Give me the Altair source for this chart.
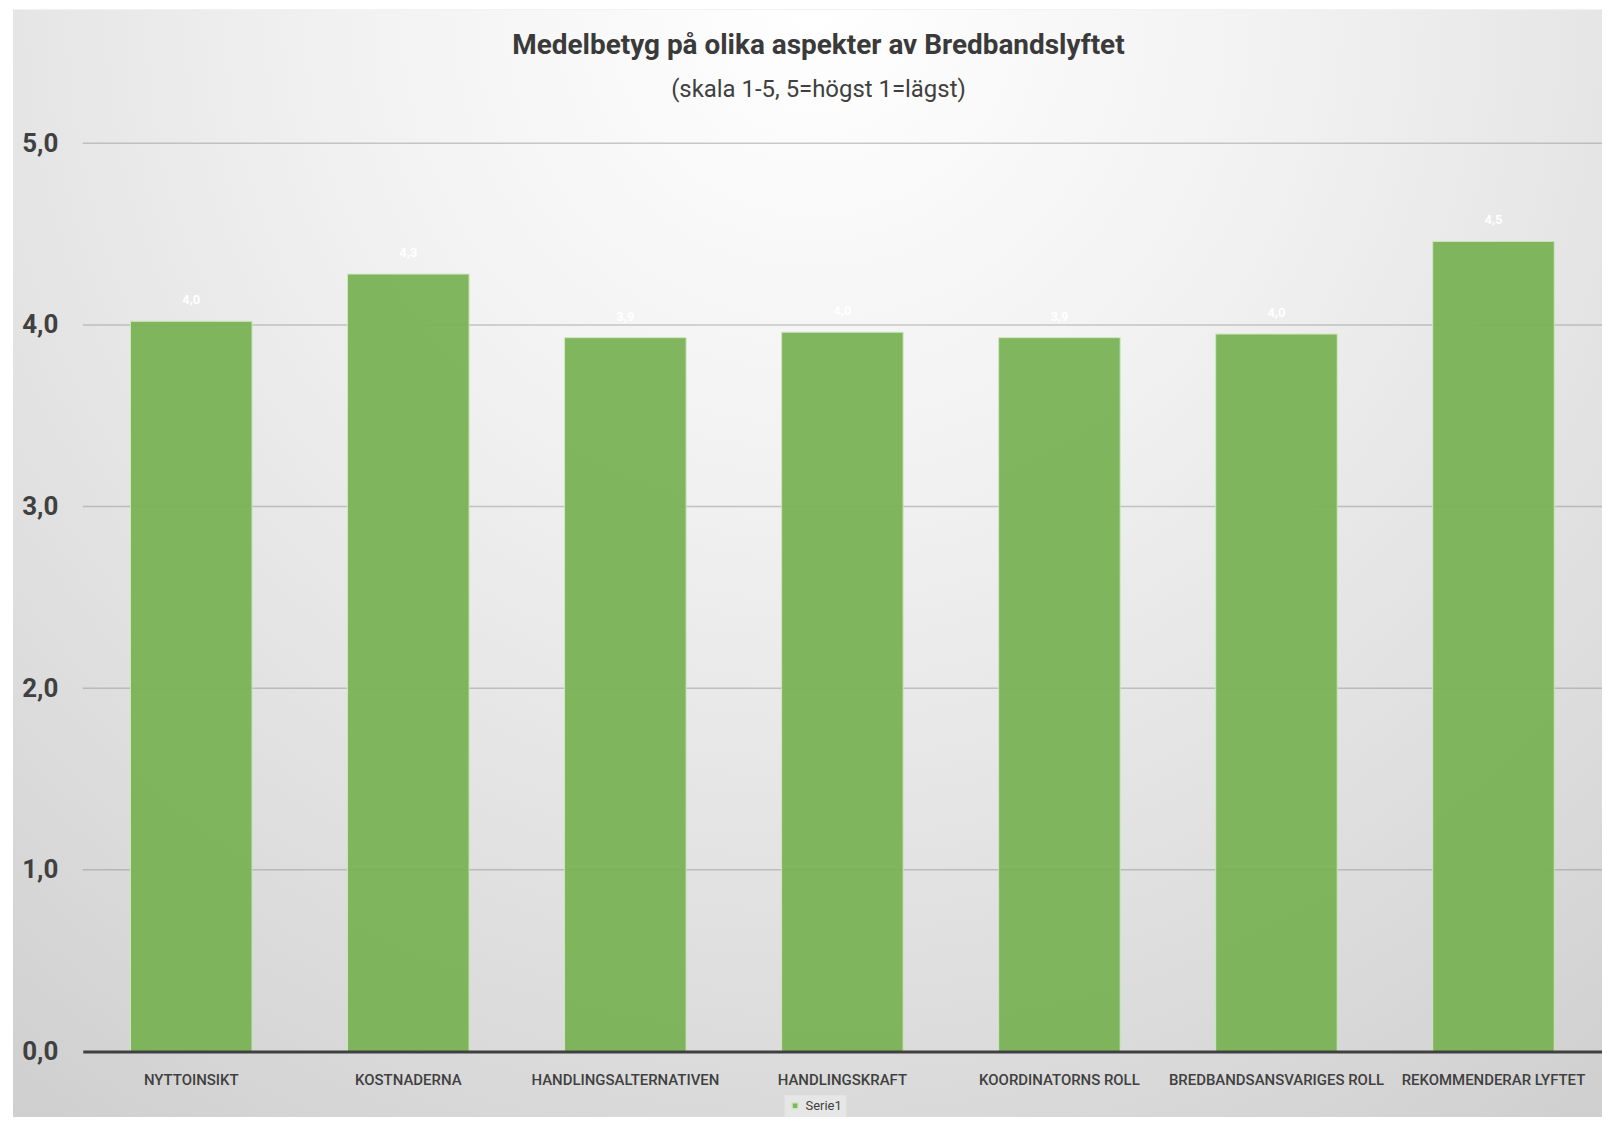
import altair as alt
import pandas as pd

categories = [
    "NYTTOINSIKT",
    "KOSTNADERNA",
    "HANDLINGSALTERNATIVEN",
    "HANDLINGSKRAFT",
    "KOORDINATORNS ROLL",
    "BREDBANDSANSVARIGES ROLL",
    "REKOMMENDERAR LYFTET",
]
values = [4.02, 4.28, 3.93, 3.96, 3.93, 3.95, 4.46]
value_labels = ["4,0", "4,3", "3,9", "4,0", "3,9", "4,0", "4,5"]
series = ["Serie1"] * len(categories)
grid_values = [1, 2, 3, 4, 5]
y_ticks = [0, 1, 2, 3, 4, 5]

df = pd.DataFrame({"kategori": categories, "medel": values,
                   "etikett": value_labels, "serie": series})
grid_df = pd.DataFrame({"v": grid_values})

F = "Roboto, Open Sans, sans-serif"
W, H = 1524, 911

y_scale = alt.Scale(domain=[0, 5])
y_axis = alt.Axis(values=y_ticks, labelExpr="replace(format(datum.value, '.1f'), '.', ',')",
                  domain=False, ticks=False, grid=False, labelFontSize=26,
                  labelFontWeight="bold", labelColor="#404040", labelFont=F,
                  labelPadding=25, title=None, zindex=1)
x_enc = alt.X("kategori:N", sort=categories,
              scale=alt.Scale(paddingInner=0.44, paddingOuter=0.22),
              axis=alt.Axis(labelAngle=0, labelFontSize=15, labelColor="#404040",
                            labelFont=F, labelFontWeight=500,
                            domainColor="#404040", domainWidth=3,
                            ticks=False, title=None, labelPadding=21, zindex=1,
                            labelLimit=400, labelOverlap=False, grid=False))

bg = alt.Chart(pd.DataFrame({"a": [0]})).mark_rect(
    color={"gradient": "radial",
           "stops": [{"offset": 0, "color": "#ffffff"},
                     {"offset": 0.2, "color": "#f1f1f1"},
                     {"offset": 0.45, "color": "#dadada"},
                     {"offset": 0.55, "color": "#d0d0d0"},
                     {"offset": 0.7, "color": "#c6c6c6"},
                     {"offset": 1, "color": "#bbbbbb"}],
           "x1": 0.5, "y1": 0, "r1": 0, "x2": 0.5, "y2": 0, "r2": 1}
).encode(x=alt.value(-70), x2=alt.value(W + 10), y=alt.value(-134), y2=alt.value(2300))

grid = alt.Chart(grid_df).mark_rule(color="#8c8c8c", opacity=0.45, strokeWidth=1.5).encode(
    y=alt.Y("v:Q", scale=y_scale, axis=y_axis)
)

bars = alt.Chart(df).mark_bar(color="#7ab356", opacity=0.95, stroke="#cfe6bf", strokeWidth=1).encode(
    x=x_enc,
    y=alt.Y("medel:Q", scale=y_scale, axis=y_axis),
    color=alt.Color("serie:N", scale=alt.Scale(range=["#7ab356"]),
                    legend=alt.Legend(orient="none", legendX=704, legendY=955,
                                      title=None, symbolType="square", symbolSize=36,
                                      labelFontSize=13, labelFont=F, labelColor="#404040",
                                      fillColor="#e6e6e6", padding=4)),
)

texts = alt.Chart(df).mark_text(color="white", fontSize=13, fontWeight="bold", dy=-21, font=F).encode(
    x=x_enc,
    y=alt.Y("medel:Q", scale=y_scale, axis=y_axis),
    text="etikett:N",
)

chart = alt.layer(bg, grid, bars, texts).properties(
    width=W, height=H,
    title=alt.Title("Medelbetyg på olika aspekter av Bredbandslyftet",
                    subtitle="(skala 1-5, 5=högst 1=lägst)",
                    fontSize=28, font=F, fontWeight="bold", color="#3a3a3a",
                    subtitleFontSize=24, subtitleFont=F, subtitleColor="#404040",
                    subtitlePadding=19, offset=-93, anchor="middle", dx=-24),
    autosize=alt.AutoSizeParams(type="none"),
    padding={"left": 75, "top": 134, "right": 0, "bottom": 64},
).configure_view(stroke=None).configure(background="white")

chart.save("out.html", embed_options={"renderer": "svg", "actions": False})
